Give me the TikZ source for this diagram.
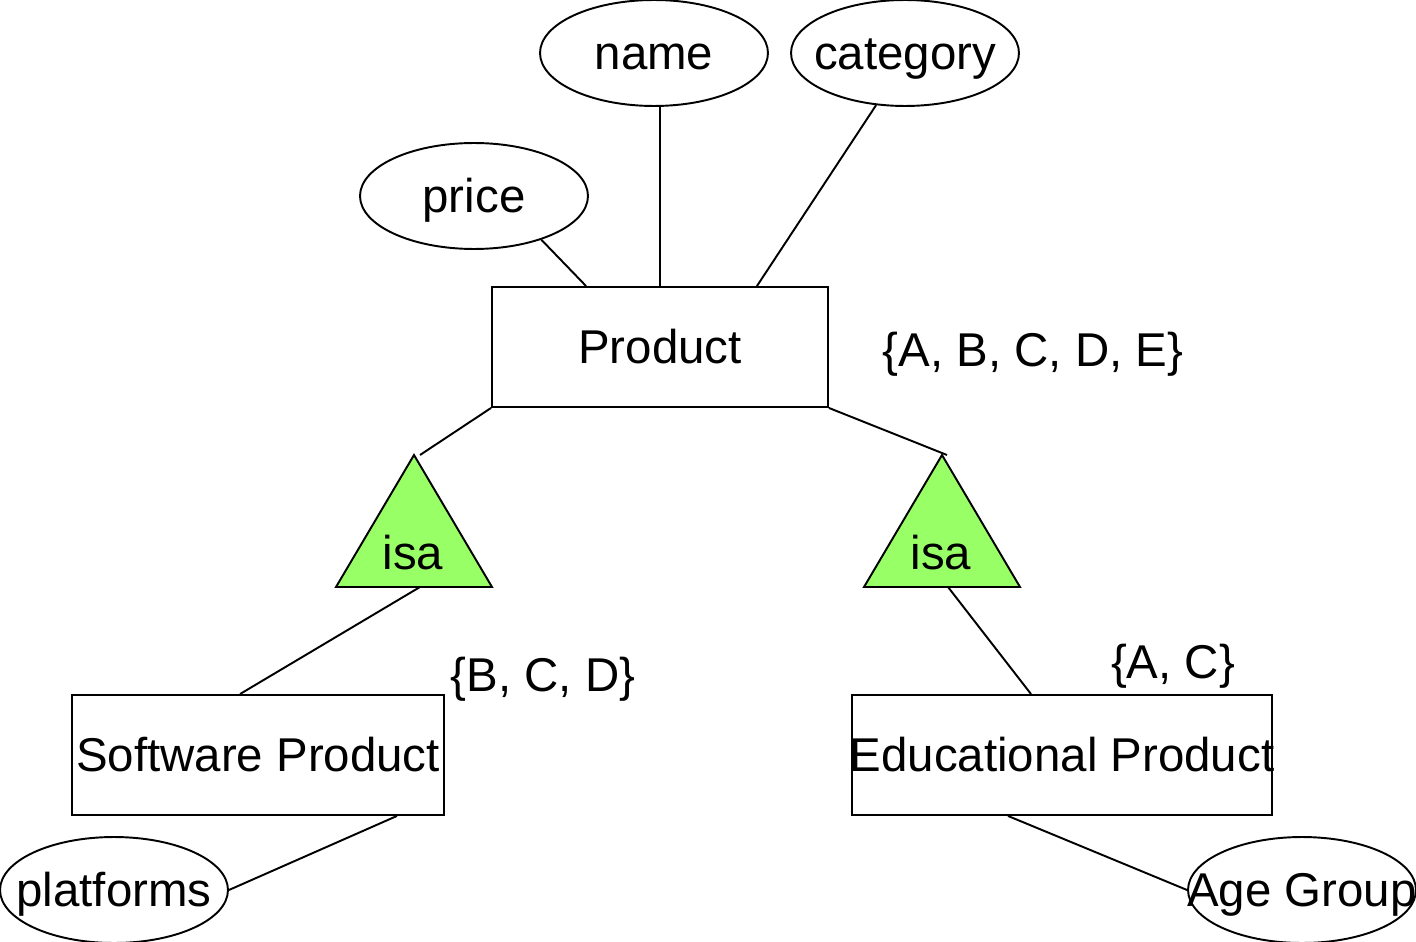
\documentclass[tikz,border=0pt]{standalone}
\usepackage{fontspec}
\setmainfont{Liberation Sans}
\usepackage{tikz}
\usetikzlibrary{shapes.geometric}
\usetikzlibrary{calc}

\definecolor{isagreen}{HTML}{99FF66}

\begin{document}
\begin{tikzpicture}[
                x=0.02cm, y=-0.02cm, line width=1.1pt,
                every node/.style={font=\fontsize{27}{32}\selectfont, text height=19.3pt, text depth=0pt, inner sep=0pt},
                attr/.style={draw, ellipse, minimum width=4.56cm, minimum height=2.12cm},
                entity/.style={draw, rectangle, minimum height=2.4cm} ]

            \useasboundingbox (0,0) rectangle (1416,942);

            % entities
            \node[entity, minimum width=6.72cm] (product) at (660,347) {Product};
            \node[entity, minimum width=7.44cm] (software) at (258,755) {\makebox[0pt]{Software Product}};
            \node[entity, minimum width=8.40cm] (educational) at (1062,755) {\makebox[0pt]{Educational Product}};

            % attributes
            \node[attr] (name) at (654,53) {\makebox[0pt]{name}};
            \node[attr] (category) at (905,53) {\makebox[0pt]{category}};
            \node[attr] (price) at (474,196) {\makebox[0pt]{price}};
            \node[attr] (platforms) at (114,890) {\makebox[0pt]{platforms}};
            \node[attr] (agegroup) at (1302,890) {\makebox[0pt]{Age Group}};

            % isa triangles
            \coordinate (isa1top) at (414,455);
            \coordinate (isa1left) at (336,587);
            \coordinate (isa1right) at (492,587);
            \coordinate (isa1base) at (414,587);
            \coordinate (isa2top) at (942,455);
            \coordinate (isa2left) at (864,587);
            \coordinate (isa2right) at (1020,587);
            \coordinate (isa2base) at (942,587);

            \filldraw[
                draw=black,
                fill=isagreen
            ]
            (isa1top) -- (isa1left) -- (isa1right) -- cycle;
            \filldraw[
                draw=black,
                fill=isagreen
            ]
            (isa2top) -- (isa2left) -- (isa2right) -- cycle;
            \node (isa1) at (413,553) {isa};
            \node (isa2) at (941,553) {isa};

            % key sets
            \node (keysP) at (1033,350) {\{A, B, C, D, E\}};
            \node (keysS) at (543,675) {\{B, C, D\}};
            \node (keysE) at (1173,662) {\{A, C\}};

            % connectors
            \draw (price.-33) -- ($(product.north west)+(95,0)$);
            \draw (product.north |- name.south) -- (product.north);
            \draw (category.241) -- ($(product.north east)+(-72,0)$);
            \draw (product.south west) -- ($(isa1top)+(6,0)$);
            \draw (product.south east) -- ($(isa2top)+(5,0)$);
            \draw ($(isa1base)+(6,0)$) -- ($(software.north)+(-18,0)$);
            \draw ($(isa2base)+(6,0)$) -- ($(educational.north)+(-31,0)$);
            \draw ($(software.south east)+(-48,0)$) -- (platforms.east);
            \draw ($(educational.south)+(-54,0)$) -- (agegroup.west);

        \end{tikzpicture}
\end{document}
